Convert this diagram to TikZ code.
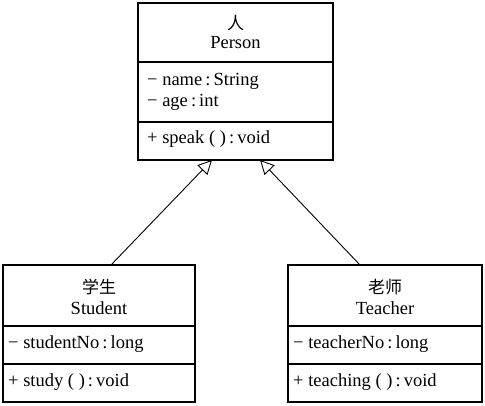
\documentclass[tikz,border=0pt]{standalone}
\usepackage{fontspec}
\setmainfont{Liberation Serif}
\newfontfamily\cjk{Noto Sans CJK SC}
\usetikzlibrary{arrows.meta}
\newcommand{\cl}{\,:\,}
\begin{document}
\begin{tikzpicture}[x=1pt,y=-1pt,
  classbox/.style={draw, line width=1.1pt, inner sep=0pt, outer sep=0pt},
  divline/.style={line width=1.1pt},
  txt/.style={inner sep=0pt, font=\fontsize{18.5}{21}\selectfont},
  cn/.style={inner sep=0pt, font=\cjk\fontsize{17}{20}\selectfont},
  inherit/.style={line width=0.9pt, -{Triangle[open, length=14pt, width=14pt, line width=0.9pt]}}]
\useasboundingbox (0,0) rectangle (485,406);
% Person
\node[classbox, minimum width=195pt, minimum height=157pt] (person) at (235.5,81.5) {};
\draw[divline] (person.west |- 0,62) -- (person.east |- 0,62);
\draw[divline] (person.west |- 0,122) -- (person.east |- 0,122);
\node[cn] (pcn) at (235.5,23) {人};
\node[txt] (pen) at (235.5,43) {Person};
\node[txt, anchor=west] (pname) at (147,81) {− name\cl String};
\node[txt, anchor=west] (page) at (147,102) {− age\cl int};
\node[txt, anchor=west] (pspeak) at (147,139) {+ speak ( )\cl void};
% Student
\node[classbox, minimum width=192pt, minimum height=137pt] (student) at (99,333.5) {};
\draw[divline] (student.west |- 0,326) -- (student.east |- 0,326);
\draw[divline] (student.west |- 0,364) -- (student.east |- 0,364);
\node[cn] (scn) at (99,287) {学生};
\node[txt] (sen) at (99,308) {Student};
\node[txt, anchor=west] (sno) at (8,344) {− studentNo\cl long};
\node[txt, anchor=west] (sstudy) at (8,382) {+ study ( )\cl void};
% Teacher
\node[classbox, minimum width=194pt, minimum height=137pt] (teacher) at (385,333.5) {};
\draw[divline] (teacher.west |- 0,326) -- (teacher.east |- 0,326);
\draw[divline] (teacher.west |- 0,364) -- (teacher.east |- 0,364);
\node[cn] (tcn) at (385,287) {老师};
\node[txt] (ten) at (385,308) {Teacher};
\node[txt, anchor=west] (tno) at (293,344) {− teacherNo\cl long};
\node[txt, anchor=west] (tteach) at (293,382) {+ teaching ( )\cl void};
% connectors
\coordinate (sstart) at (111,265);
\coordinate (send) at (212,160);
\coordinate (tstart) at (360,265);
\coordinate (tend) at (260,160);
\draw[inherit] (sstart) -- (send);
\draw[inherit] (tstart) -- (tend);
\end{tikzpicture}
\end{document}
